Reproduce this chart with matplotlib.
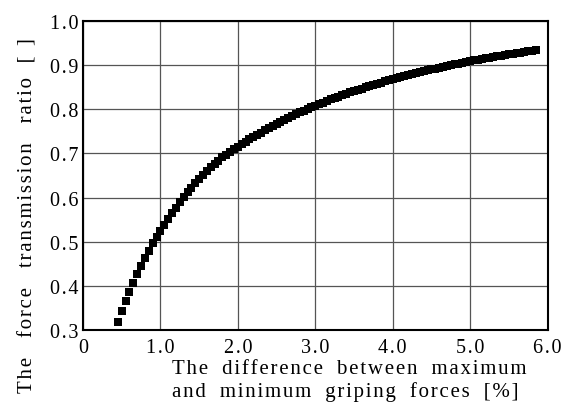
import matplotlib.pyplot as plt

# difference between max and min griping forces [%]
diff_pct = [0.45, 0.50, 0.55, 0.60, 0.65, 0.70, 0.75, 0.80, 0.85, 0.90,
            0.95, 1.00, 1.05, 1.10, 1.15, 1.20, 1.25, 1.30, 1.35, 1.40,
            1.45, 1.50, 1.55, 1.60, 1.65, 1.70, 1.75, 1.80, 1.85, 1.90,
            1.95, 2.00, 2.05, 2.10, 2.15, 2.20, 2.25, 2.30, 2.35, 2.40,
            2.45, 2.50, 2.55, 2.60, 2.65, 2.70, 2.75, 2.80, 2.85, 2.90,
            2.95, 3.00, 3.05, 3.10, 3.15, 3.20, 3.25, 3.30, 3.35, 3.40,
            3.45, 3.50, 3.55, 3.60, 3.65, 3.70, 3.75, 3.80, 3.85, 3.90,
            3.95, 4.00, 4.05, 4.10, 4.15, 4.20, 4.25, 4.30, 4.35, 4.40,
            4.45, 4.50, 4.55, 4.60, 4.65, 4.70, 4.75, 4.80, 4.85, 4.90,
            4.95, 5.00, 5.05, 5.10, 5.15, 5.20, 5.25, 5.30, 5.35, 5.40,
            5.45, 5.50, 5.55, 5.60, 5.65, 5.70, 5.75, 5.80, 5.85]

# force transmission ratio
ratio = [0.318, 0.342, 0.365, 0.387, 0.407, 0.427, 0.445, 0.463, 0.480, 0.496,
         0.510, 0.524, 0.5382, 0.5518, 0.5648, 0.5773, 0.5893, 0.6009, 0.6118, 0.6222,
         0.6322, 0.6420, 0.6513, 0.6601, 0.6685, 0.6764, 0.6839, 0.6909, 0.6975, 0.7037,
         0.7095, 0.7150, 0.7207, 0.7262, 0.7316, 0.7369, 0.7421, 0.7472, 0.7522, 0.7571,
         0.7619, 0.7667, 0.7713, 0.7758, 0.7802, 0.7845, 0.7887, 0.7928, 0.7968, 0.8007,
         0.8045, 0.8082, 0.8118, 0.8153, 0.8188, 0.8222, 0.8255, 0.8288, 0.8320, 0.8351,
         0.8382, 0.8412, 0.8441, 0.8470, 0.8498, 0.8526, 0.8553, 0.8580, 0.8606, 0.8632,
         0.8657, 0.8682, 0.8706, 0.8730, 0.8753, 0.8776, 0.8798, 0.8820, 0.8842, 0.8863,
         0.8884, 0.8904, 0.8924, 0.8944, 0.8963, 0.8982, 0.9001, 0.9019, 0.9037, 0.9055,
         0.9072, 0.9089, 0.9106, 0.9122, 0.9138, 0.9154, 0.9170, 0.9185, 0.9200, 0.9215,
         0.9230, 0.9244, 0.9258, 0.9272, 0.9286, 0.9300, 0.9313, 0.9326, 0.9339]

xticks = [0, 1, 2, 3, 4, 5, 6]
xtick_labels = ['0', '1.0', '2.0', '3.0', '4.0', '5.0', '6.0']
yticks = [0.3, 0.4, 0.5, 0.6, 0.7, 0.8, 0.9, 1.0]
ytick_labels = ['0.3', '0.4', '0.5', '0.6', '0.7', '0.8', '0.9', '1.0']
xlabel_lines = ['The difference between maximum', 'and minimum griping forces [%]']
ylabel = 'The force transmission ratio'
ylabel_unit = '[\u2002]'


def spaced(s, gap='\u200a', word='\u2002'):
    # the original has wide letter spacing, fake it with hair spaces
    return gap.join(s.replace(' ', word))


plt.rcParams['font.family'] = ['Liberation Serif', 'DejaVu Serif']

fig = plt.figure(figsize=(5.63, 4.10), dpi=100)
ax = fig.add_axes([0.1474, 0.1927, 0.8251, 0.7536])

ax.plot(diff_pct, ratio, 's', color='black', ms=5.8, mew=0)

ax.set_xlim(0, 6)
ax.set_ylim(0.3, 1.0)
ax.set_xticks(xticks)
ax.set_xticklabels([spaced(t) for t in xtick_labels])
ax.set_yticks(yticks)
ax.set_yticklabels([spaced(t) for t in ytick_labels])
ax.tick_params(length=0, labelsize=14.5)
ax.tick_params(axis='x', pad=6)
ax.tick_params(axis='y', pad=3)
ax.grid(True, color='#555555', lw=0.9)
ax.set_axisbelow(True)
for s in ax.spines.values():
    s.set_linewidth(1.5)

fig.text(0.3055, 0.098, spaced(xlabel_lines[0]), fontsize=15, ha='left', va='center')
fig.text(0.3055, 0.043, spaced(xlabel_lines[1]), fontsize=15, ha='left', va='center')
fig.text(0.05, 0.475, spaced(ylabel, word='\u2002\u2009') + '\u2002\u2009' + ylabel_unit,
         fontsize=15, rotation=90, ha='center', va='center')

fig.savefig('out.png', dpi=100)
